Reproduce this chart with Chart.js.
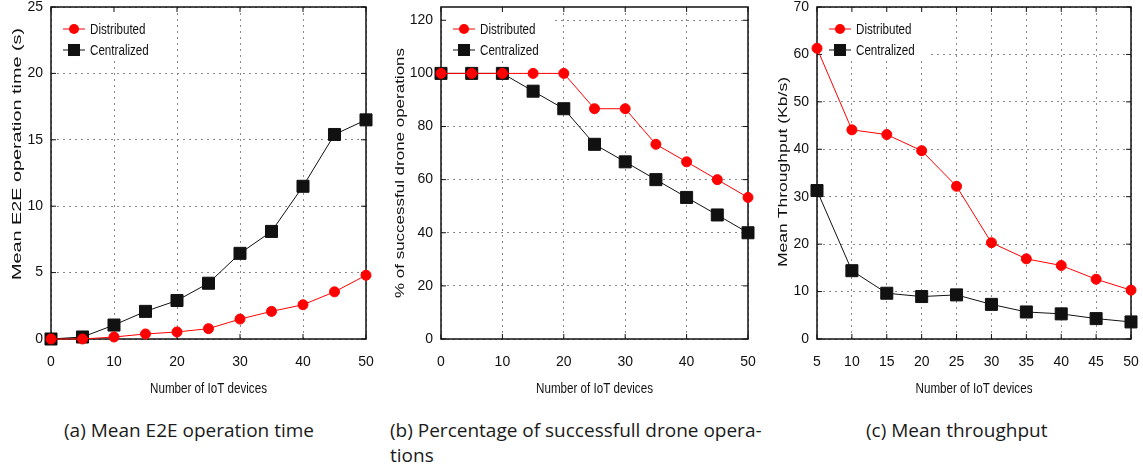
<!DOCTYPE html>
<html>
<head>
<meta charset="utf-8">
<script src="https://cdn.jsdelivr.net/npm/chart.js@4.4.1/dist/chart.umd.min.js"></script>
<style>
  html, body { margin: 0; padding: 0; background: #fff; }
  body { width: 1143px; height: 467px; position: relative; overflow: hidden; }
  canvas { position: absolute; top: 0; }
  .cap {
    position: absolute;
    top: 418px;
    font-family: 'Open Sans', 'Noto Sans', sans-serif;
    font-size: 19px;
    line-height: 25px;
    color: #1a1a1a;
    white-space: nowrap;
  }
</style>
</head>
<body>
<canvas id="chart-a" width="374" height="400" style="left:0"></canvas>
<canvas id="chart-b" width="371" height="400" style="left:385px"></canvas>
<canvas id="chart-c" width="374" height="400" style="left:765px"></canvas>
<div class="cap" style="left:64px">(a) Mean E2E operation time</div>
<div class="cap" style="left:390px">(b) Percentage of successfull drone opera-<br>tions</div>
<div class="cap" style="left:866px">(c) Mean throughput</div>

<script>
(function () {
  'use strict';

  // ── DATA ──────────────────────────────────────────────────────────────────

  var DEVICES        = [0, 5, 10, 15, 20, 25, 30, 35, 40, 45, 50];
  var DEVICES_THR    = [5, 10, 15, 20, 25, 30, 35, 40, 45, 50];

  var E2E_DISTRIBUTED = [0, 0, 0.15, 0.38, 0.53, 0.78, 1.5, 2.08, 2.58, 3.55, 4.8];
  var E2E_CENTRALIZED = [0, 0.15, 1.05, 2.08, 2.9, 4.2, 6.45, 8.1, 11.5, 15.4, 16.5];

  var OK_DISTRIBUTED  = [100, 100, 100, 100, 100, 86.7, 86.7, 73.3, 66.7, 60, 53.3];
  var OK_CENTRALIZED  = [100, 100, 100, 93.3, 86.7, 73.3, 66.7, 60, 53.3, 46.7, 40];

  var THR_DISTRIBUTED = [61.3, 44.1, 43.1, 39.7, 32.2, 20.3, 16.9, 15.5, 12.6, 10.3];
  var THR_CENTRALIZED = [31.3, 14.4, 9.65, 8.95, 9.3, 7.3, 5.7, 5.3, 4.3, 3.6];

  var X_TICKS_10   = [0, 10, 20, 30, 40, 50];
  var X_TICKS_5    = [5, 10, 15, 20, 25, 30, 35, 40, 45, 50];
  var Y_TICKS_E2E  = [0, 5, 10, 15, 20, 25];
  var Y_TICKS_OK   = [0, 20, 40, 60, 80, 100, 120];
  var Y_TICKS_THR  = [0, 10, 20, 30, 40, 50, 60, 70];

  var SERIES_NAMES = ['Distributed', 'Centralized'];
  var X_TITLE      = 'Number of IoT devices';

  // ── STYLE ─────────────────────────────────────────────────────────────────

  var SANS    = "'Liberation Sans', Arial, sans-serif";
  var RED     = '#ff0000';
  var INK     = '#111111';
  var SQUISH  = 0.83;   // the source figure is squeezed horizontally

  // ── PLUGINS ───────────────────────────────────────────────────────────────
  // gnuplot look: opaque key box, full border, inward mirror ticks,
  // and axis titles drawn with the source's odd aspect ratio.

  function stretchedText(ctx, text, x, y, rot, sx) {
    ctx.save();
    ctx.translate(x, y);
    ctx.rotate(rot);
    ctx.scale(sx, 1);
    ctx.fillText(text, 0, 0);
    ctx.restore();
  }

  var framePlugin = {
    id: 'gnuFrame',
    beforeDatasetsDraw: function (chart) {
      var ctx = chart.ctx;
      var a = chart.chartArea;
      var xs = chart.scales.x;
      var ys = chart.scales.y;

      ctx.save();

      // key box hides the grid behind it
      ctx.fillStyle = '#fff';
      ctx.fillRect(a.left + 1, a.top + 1, 110, 52);

      // border
      ctx.strokeStyle = INK;
      ctx.lineWidth = 1.5;
      ctx.strokeRect(a.left, a.top, a.right - a.left, a.bottom - a.top);

      // inward ticks
      ctx.lineWidth = 1;
      ctx.beginPath();
      xs.ticks.forEach(function (t) {
        var px = xs.getPixelForValue(t.value);
        ctx.moveTo(px, a.bottom); ctx.lineTo(px, a.bottom - 5);
        ctx.moveTo(px, a.top);    ctx.lineTo(px, a.top + 5);
      });
      ys.ticks.forEach(function (t) {
        var py = ys.getPixelForValue(t.value);
        ctx.moveTo(a.left, py);  ctx.lineTo(a.left + 5, py);
        ctx.moveTo(a.right, py); ctx.lineTo(a.right - 5, py);
      });
      ctx.stroke();

      // key entries
      ctx.font = '14px ' + SANS;
      ctx.textAlign = 'left';
      ctx.textBaseline = 'middle';
      chart.data.datasets.forEach(function (ds, i) {
        var y  = a.top + 22 + i * 21;
        var x0 = a.left + 12;
        var x1 = a.left + 34;
        var cx = (x0 + x1) / 2;

        ctx.strokeStyle = ds.borderColor;
        ctx.beginPath();
        ctx.moveTo(x0, y); ctx.lineTo(x1, y);
        ctx.stroke();

        ctx.fillStyle = ds.pointBackgroundColor;
        if (ds.pointStyle === 'rect') {
          var s = ds.pointRadius * Math.SQRT1_2;
          ctx.fillRect(cx - s, y - s, 2 * s, 2 * s);
        } else {
          ctx.beginPath();
          ctx.arc(cx, y, ds.pointRadius, 0, Math.PI * 2);
          ctx.fill();
        }

        ctx.fillStyle = INK;
        stretchedText(ctx, ds.label, x1 + 5, y + 1, 0, SQUISH);
      });

      ctx.restore();
    },

    afterDraw: function (chart, args, opts) {
      var ctx = chart.ctx;
      var a = chart.chartArea;

      ctx.save();
      ctx.fillStyle = INK;
      ctx.font = '14px ' + SANS;
      ctx.textAlign = 'center';
      ctx.textBaseline = 'middle';

      stretchedText(ctx, X_TITLE, (a.left + a.right) / 2, 389, 0, SQUISH);

      ctx.font = '13px ' + SANS;
      var w = ctx.measureText(opts.yTitle).width;
      stretchedText(ctx, opts.yTitle, opts.yTitleX, opts.yTitleY, -Math.PI / 2,
        opts.yTitleLength / w);

      ctx.restore();
    }
  };

  // ── CHART BUILDER ─────────────────────────────────────────────────────────

  function toPoints(xs, ys) {
    return xs.map(function (x, i) { return { x: x, y: ys[i] }; });
  }

  function fixedTicks(values) {
    return function (scale) {
      scale.ticks = values.map(function (v) { return { value: v }; });
    };
  }

  function makePanel(id, cfg) {
    var canvas = document.getElementById(id);
    var grid   = { color: '#8a8a8a', drawTicks: false, lineWidth: 1 };
    var border = { display: false, dash: [2, 4] };
    var tickFont = { family: SANS, size: 14, lineHeight: 1 };

    return new Chart(canvas, {
      type: 'line',
      data: {
        datasets: [{
          label:                SERIES_NAMES[0],
          data:                 toPoints(cfg.x, cfg.distributed),
          borderColor:          RED,
          backgroundColor:      RED,
          pointBackgroundColor: RED,
          pointBorderColor:     RED,
          pointStyle:           'circle',
          pointRadius:          5,
          borderWidth:          1,
          clip:                 false,
        }, {
          label:                SERIES_NAMES[1],
          data:                 toPoints(cfg.x, cfg.centralized),
          borderColor:          INK,
          backgroundColor:      INK,
          pointBackgroundColor: INK,
          pointBorderColor:     INK,
          pointStyle:           'rect',
          pointRadius:          8.5,
          borderWidth:          1,
          clip:                 false,
        }],
      },
      options: {
        responsive: false,
        animation:  false,
        layout: { padding: { top: 7, right: 8, bottom: 0, left: 0 }, autoPadding: false },
        plugins: {
          legend:  { display: false },
          tooltip: { enabled: false },
          gnuFrame: {
            yTitle:       cfg.yTitle,
            yTitleX:      cfg.yTitleX,
            yTitleY:      cfg.yTitleY,
            yTitleLength: cfg.yTitleLength,
          },
        },
        scales: {
          x: {
            type: 'linear',
            min:  cfg.xMin,
            max:  cfg.xMax,
            afterBuildTicks: fixedTicks(cfg.xTicks),
            // fixed box; tick labels may hang into the layout padding
            afterFit: function (s) {
              s.height = 61;
              s.paddingLeft = 0;
              s.paddingRight = 0;
            },
            ticks:  { color: INK, padding: 16, font: tickFont, maxRotation: 0 },
            grid:   grid,
            border: border,
          },
          y: {
            min:  cfg.yMin,
            max:  cfg.yMax,
            afterBuildTicks: fixedTicks(cfg.yTicks),
            afterFit: function (s) {
              s.width = cfg.yWidth;
              s.paddingTop = 0;
              s.paddingBottom = 0;
            },
            ticks:  { color: INK, padding: 8, font: tickFont },
            grid:   grid,
            border: border,
          },
        },
      },
      plugins: [framePlugin],
    });
  }

  // ── BOOT ──────────────────────────────────────────────────────────────────

  makePanel('chart-a', {
    x: DEVICES, distributed: E2E_DISTRIBUTED, centralized: E2E_CENTRALIZED,
    xMin: 0, xMax: 50, xTicks: X_TICKS_10,
    yMin: 0, yMax: 25, yTicks: Y_TICKS_E2E,
    yTitle: 'Mean E2E operation time (s)',
    yWidth: 51, yTitleX: 17, yTitleY: 154, yTitleLength: 252,
  });

  makePanel('chart-b', {
    x: DEVICES, distributed: OK_DISTRIBUTED, centralized: OK_CENTRALIZED,
    xMin: 0, xMax: 50, xTicks: X_TICKS_10,
    yMin: 0, yMax: 125, yTicks: Y_TICKS_OK,
    yTitle: '% of successful drone operations',
    yWidth: 56, yTitleX: 15, yTitleY: 173, yTitleLength: 250,
  });

  makePanel('chart-c', {
    x: DEVICES_THR, distributed: THR_DISTRIBUTED, centralized: THR_CENTRALIZED,
    xMin: 5, xMax: 50, xTicks: X_TICKS_5,
    yMin: 0, yMax: 70, yTicks: Y_TICKS_THR,
    yTitle: 'Mean Throughput (Kb/s)',
    yWidth: 52, yTitleX: 18, yTitleY: 172, yTitleLength: 190,
  });

}());
</script>
</body>
</html>
